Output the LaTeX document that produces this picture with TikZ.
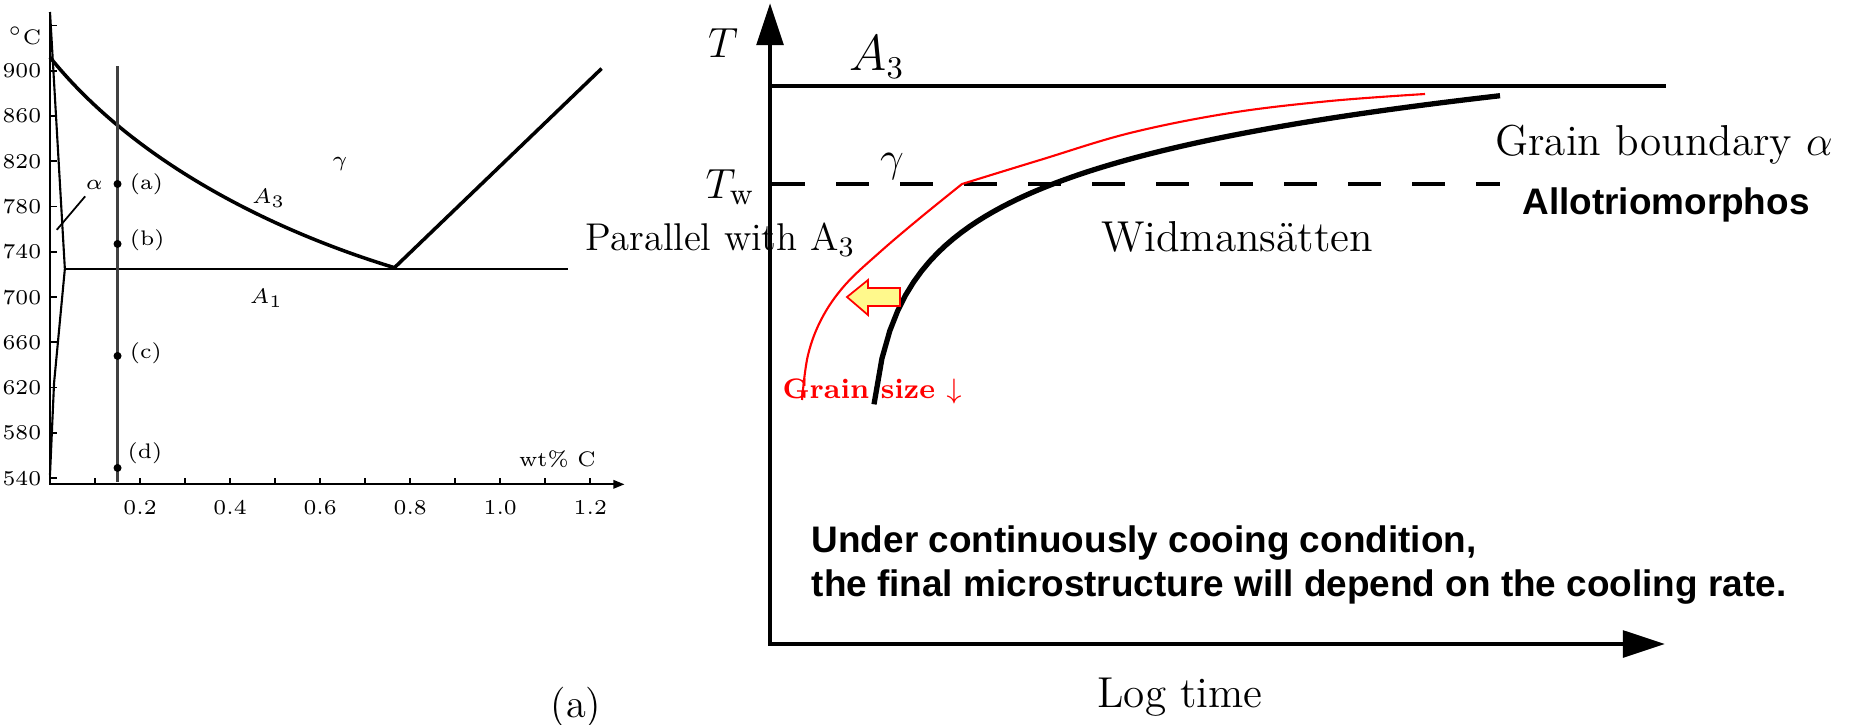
\documentclass[tikz,border=0pt]{standalone}
\usepackage{fontspec}
\newfontfamily\arialb{Liberation Sans}
\usetikzlibrary{positioning,arrows.meta}

\begin{document}
\begin{tikzpicture}[x=0.01cm,y=-0.01cm,
  tiny/.style={inner sep=0pt,font=\fontsize{6}{7}\selectfont},
  dot/.style={circle,fill,inner sep=0pt,minimum size=0.08cm},
  lab/.style={inner sep=0pt,font=\fontsize{12.3}{14}\selectfont}]
\useasboundingbox (0,0) rectangle (1849,724);

% phase diagram (wt% C, deg C)
\begin{scope}[shift={(50,1089)},x=4.5cm,y=0.0113cm]
\draw[line width=0.6pt,-{Triangle[length=3.2pt,width=2.4pt]}] (0,952)--(0,534.5)--(1.276,534.5);
\foreach \t in {540,580,...,940} \draw[line width=0.5pt] (0,\t)--(0.016,\t);
\foreach \t in {540,580,...,900} \node[tiny,anchor=east] (y\t) at (-0.018,\t) {\t};
\node[tiny] (degc) at (-0.056,931) {$^\circ$C};
\foreach \w in {1,...,12} \draw[line width=0.5pt] (\w/10,534.5)--(\w/10,540);
\foreach \w [count=\i] in {0.2,0.4,0.6,0.8,1.0,1.2} \node[tiny] (x\i) at (\w,514) {\w};
\node[tiny] (wtc) at (1.127,557) {wt\% C};
% phase boundaries
\draw[line width=0.6pt] (0,952)--(0.033,725)--(0.009,624)--(0,543);
\draw[line width=1pt] (0,912) .. controls (0.19,818) and (0.5,758) .. (0.765,726) -- (1.225,902);
\draw[line width=0.6pt] (0.033,725)--(1.151,725);
\draw[line width=0.6pt,black!75] (0.15,904)--(0.15,537);
\node[dot] (pa) at (0.15,800) {};
\node[dot] (pb) at (0.15,747) {};
\node[dot] (pc) at (0.15,648) {};
\node[dot] (pd) at (0.15,549) {};
\node[tiny,right=0.07cm of pa] (la) {(a)};
\node[tiny,right=0.07cm of pb,yshift=0.04cm] (lb) {(b)};
\node[tiny,right=0.07cm of pc,yshift=0.03cm] (lc) {(c)};
\node[tiny] (ld) at (0.211,562) {(d)};
\node[tiny] (alf) at (0.0985,799) {$\alpha$};
\coordinate (alfend) at (0.0162,760);
\draw[line width=0.5pt] ([yshift=-0.06cm]alf.south west) -- (alfend);
\fill (alfend) circle (0.012cm);
\node[tiny] (gam) at (0.644,818) {$\gamma$};
\node[tiny] (aa3) at (0.486,787) {$A_3$};
\node[tiny] (aa1) at (0.481,699) {$A_1$};
\end{scope}
\node[inner sep=0pt,font=\fontsize{11.5}{13}\selectfont] (figa) at (576,707) {(a)};

% CCT sketch
\draw[line width=1.4pt,{Triangle[length=12pt,width=7.5pt]}-{Triangle[length=12pt,width=7.5pt]}] (770,3)--(770,644)--(1665,644);
\draw[line width=0.9pt] (770,86)--(1666,86);
\draw[line width=1.3pt,dash pattern=on 9.4pt off 8.8pt] (772,184)--(1500,184);
\draw[line width=1.5pt] plot[domain=874:1500,samples=80] (\x,{563.6-72.5*ln(\x-865)});
\draw[red,line width=0.6pt] plot[smooth,tension=0.6] coordinates {(802,400) (808,355) (822,318) (845,285) (880,252) (920,218) (962,184)}
  plot[smooth,tension=0.6] coordinates {(962,184) (1040,160) (1130,133) (1230,113) (1330,101) (1425,94)};
\filldraw[draw=red,fill=yellow!45,line width=0.5pt] (900,288)--(868,288)--(868,280)--(847,297)--(868,315)--(868,306)--(900,306)--cycle;

\node[lab,font=\fontsize{12.5}{14}\selectfont] (tt) at (723,43) {$T$};
\node[lab,font=\fontsize{13.5}{15}\selectfont] (ta3) at (877,57) {$A_3$};
\node[lab,font=\fontsize{12.5}{14}\selectfont] (tw) at (730,187) {$T_{\mathrm{w}}$};
\node[lab,font=\fontsize{13}{15}\selectfont] (tgam) at (892,167) {$\gamma$};
\node[lab] (widm) at (1237,237) {Widmansätten};
\node[lab] (gba) at (1664,145) {Grain boundary $\alpha$};
\node[inner sep=0pt,font=\arialb\bfseries\fontsize{10.5}{12}\selectfont] (allo) at (1666,205) {Allotriomorphos};
\node[inner sep=0pt,anchor=west,font=\fontsize{11}{13}\selectfont] (par) at (585,240) {Parallel with A$_3$};
\node[inner sep=0pt,red,font=\bfseries\fontsize{8}{10}\selectfont] (gsz) at (872,391) {Grain size $\downarrow$};
\node[inner sep=0pt,anchor=west,align=left,font=\arialb\bfseries\fontsize{10.5}{12.5}\selectfont] (note) at (811,565) {Under continuously cooing condition,\\the final microstructure will depend on the cooling rate.};
\node[lab] (logt) at (1180,697) {Log time};
\end{tikzpicture}
\end{document}
